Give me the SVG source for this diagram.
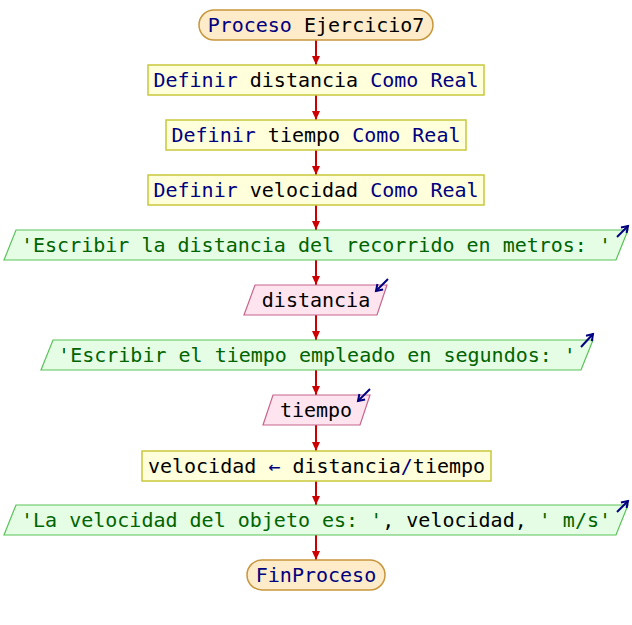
<svg xmlns="http://www.w3.org/2000/svg" width="632" height="625" viewBox="0 0 632 625">
  <style>
    text { font-family: "DejaVu Sans Mono", "Liberation Mono", monospace; font-size: 20px; text-anchor: middle; fill: #000000; }
    .kw { fill: #000080; }
    .str { fill: #006400; }
    .op { fill: #000080; }
    .term { fill: #fdebc9; stroke: #c8963c; stroke-width: 1.5; }
    .proc { fill: #ffffdc; stroke: #c8c83c; stroke-width: 1.5; }
    .out { fill: #e4fde4; stroke: #5ac35a; stroke-width: 1.2; }
    .in { fill: #fde4ee; stroke: #c8648c; stroke-width: 1.2; }
    .flow { stroke: #cc0000; stroke-width: 2; fill: none; }
    .io { stroke: #000080; stroke-width: 2; fill: none; }
  </style>
  <defs>
    <marker id="head" markerUnits="userSpaceOnUse" markerWidth="10" markerHeight="8" refX="9" refY="4" orient="auto">
      <path d="M0,0 L9,4 L0,8 Z" fill="#cc0000"/>
    </marker>
    <marker id="ioHead" markerUnits="userSpaceOnUse" markerWidth="10" markerHeight="10" refX="7" refY="5" orient="auto">
      <path d="M1,1 L7,5 L1,9" fill="none" stroke="#000080" stroke-width="2"/>
    </marker>
  </defs>

  <!-- connectors -->
  <g id="connectors">
    <line class="flow" x1="316" y1="40" x2="316" y2="65" marker-end="url(#head)"/>
    <line class="flow" x1="316" y1="95" x2="316" y2="120" marker-end="url(#head)"/>
    <line class="flow" x1="316" y1="150" x2="316" y2="175" marker-end="url(#head)"/>
    <line class="flow" x1="316" y1="205" x2="316" y2="230" marker-end="url(#head)"/>
    <line class="flow" x1="316" y1="260" x2="316" y2="285" marker-end="url(#head)"/>
    <line class="flow" x1="316" y1="315" x2="316" y2="340" marker-end="url(#head)"/>
    <line class="flow" x1="316" y1="370" x2="316" y2="395" marker-end="url(#head)"/>
    <line class="flow" x1="316" y1="425" x2="316" y2="451" marker-end="url(#head)"/>
    <line class="flow" x1="316" y1="481" x2="316" y2="505" marker-end="url(#head)"/>
    <line class="flow" x1="316" y1="535" x2="316" y2="560" marker-end="url(#head)"/>
  </g>

  <g id="start">
    <rect class="term" x="199" y="10" width="234" height="30" rx="15" ry="15"/>
    <text x="316" y="32"><tspan class="kw">Proceso</tspan> Ejercicio7</text>
  </g>

  <g id="def-distancia">
    <rect class="proc" x="148" y="65" width="336" height="30"/>
    <text x="316" y="87"><tspan class="kw">Definir</tspan> distancia <tspan class="kw">Como Real</tspan></text>
  </g>

  <g id="def-tiempo">
    <rect class="proc" x="166" y="120" width="300" height="30"/>
    <text x="316" y="142"><tspan class="kw">Definir</tspan> tiempo <tspan class="kw">Como Real</tspan></text>
  </g>

  <g id="def-velocidad">
    <rect class="proc" x="148" y="175" width="336" height="30"/>
    <text x="316" y="197"><tspan class="kw">Definir</tspan> velocidad <tspan class="kw">Como Real</tspan></text>
  </g>

  <g id="out-distancia">
    <polygon class="out" points="16,230 628,230 616,260 4,260"/>
    <text x="316" y="252" class="str">'Escribir la distancia del recorrido en metros: '</text>
    <line class="io" x1="617" y1="237" x2="628" y2="226" marker-end="url(#ioHead)"/>
  </g>

  <g id="in-distancia">
    <polygon class="in" points="255,285 387,285 377,315 244,315"/>
    <text x="316" y="307">distancia</text>
    <line class="io" x1="388" y1="279" x2="376" y2="291" marker-end="url(#ioHead)"/>
  </g>

  <g id="out-tiempo">
    <polygon class="out" points="53,340 593,340 581,370 41,370"/>
    <text x="317" y="362" class="str">'Escribir el tiempo empleado en segundos: '</text>
    <line class="io" x1="581" y1="347" x2="593" y2="334" marker-end="url(#ioHead)"/>
  </g>

  <g id="in-tiempo">
    <polygon class="in" points="273,395 370,395 360,425 263,425"/>
    <text x="316" y="417">tiempo</text>
    <line class="io" x1="370" y1="389" x2="358" y2="401" marker-end="url(#ioHead)"/>
  </g>

  <g id="calc-velocidad">
    <rect class="proc" x="142" y="451" width="349" height="30"/>
    <text x="316.5" y="473">velocidad <tspan class="op">←</tspan> distancia<tspan class="op">/</tspan>tiempo</text>
  </g>

  <g id="out-velocidad">
    <polygon class="out" points="16,505 628,505 616,535 4,535"/>
    <text x="316" y="527"><tspan class="str">'La velocidad del objeto es: '</tspan>, velocidad, <tspan class="str">' m/s'</tspan></text>
    <line class="io" x1="617" y1="512" x2="628" y2="501" marker-end="url(#ioHead)"/>
  </g>

  <g id="end">
    <rect class="term" x="247" y="560" width="138" height="30" rx="15" ry="15"/>
    <text x="316" y="582" class="kw">FinProceso</text>
  </g>
</svg>
